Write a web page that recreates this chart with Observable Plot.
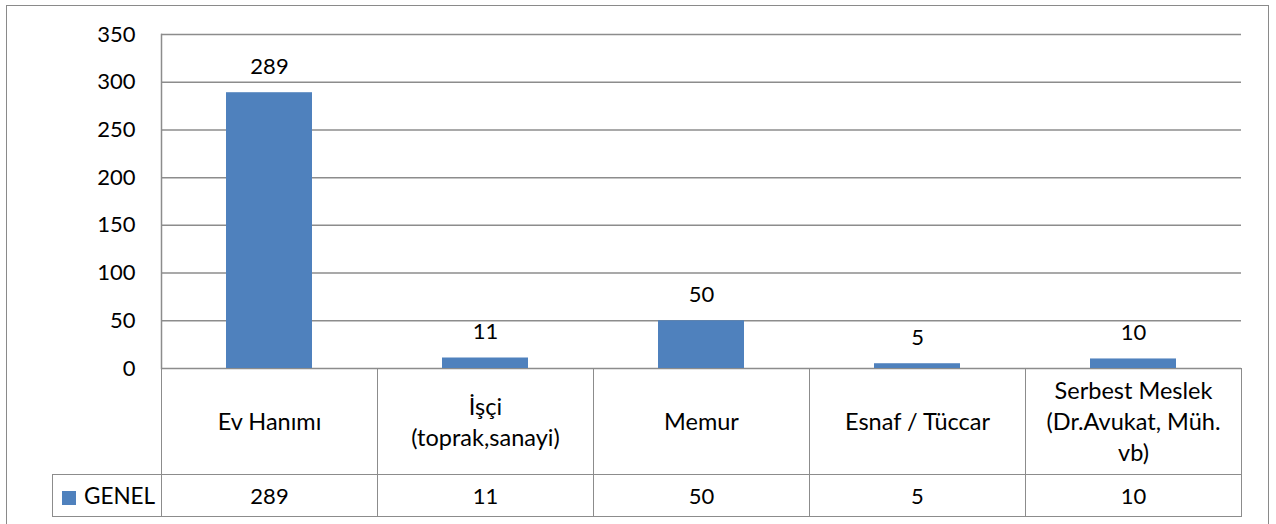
<!DOCTYPE html>
<html><head><meta charset="utf-8">
<script src="https://cdn.jsdelivr.net/npm/d3@7"></script>
<script src="https://cdn.jsdelivr.net/npm/@observablehq/plot@0.6"></script>
<style>
body{margin:0;background:#fff;font-family:Lato,sans-serif;}
#wrap{position:relative;width:1276px;height:524px;overflow:hidden;background:#fff}
#frame{position:absolute;left:6px;top:5px;width:1263px;height:600px;border:1.5px solid #8a8a8a;box-sizing:border-box}
#chart{position:absolute;left:0;top:0}
#tbl{position:absolute;left:52px;top:368px;border-collapse:collapse;table-layout:fixed;font:22px Lato,sans-serif;color:#000}
#tbl td{border:1.5px solid #8c8c8c;text-align:center;padding:0;line-height:31px;box-sizing:border-box}
#tbl td.empty{border-left:none;border-top:none}
#tbl tr.cats td{height:106px;font-size:23.5px}
#tbl tr.vals td{height:42px}
#tbl td.legend{text-align:left;padding-left:9px;font-size:22.5px}
#tbl .sw{display:inline-block;width:14px;height:14px;background:#4F81BD;margin-right:8px;vertical-align:-1px}
</style></head>
<body><div id="wrap"><div id="frame"></div><div id="chart"></div><table id="tbl"></table></div>
<script>
const categories = ["Ev Hanımı","İşçi (toprak,sanayi)","Memur","Esnaf / Tüccar","Serbest Meslek (Dr.Avukat, Müh. vb)"];
const categoryLines = [["Ev Hanımı"],["İşçi","(toprak,sanayi)"],["Memur"],["Esnaf / Tüccar"],["Serbest Meslek","(Dr.Avukat, Müh.","vb)"]];
const values = [289,11,50,5,10];
const seriesName = "GENEL";
const yTicks = [0,50,100,150,200,250,300,350];
const barColor = "#4F81BD";

const data = categories.map((c,i)=>({category:c, value:values[i]}));
const chart = Plot.plot({
  width:1276, height:370, marginLeft:161, marginRight:35, marginTop:34, marginBottom:2,
  style:{fontFamily:"Lato, sans-serif", fontSize:"22px", color:"#000", background:"transparent", overflow:"visible"},
  x:{type:"band", domain:categories, paddingInner:0.6, paddingOuter:0.3, axis:null},
  y:{domain:[0,350], ticks:yTicks, label:null, axis:null},
  marks:[
    Plot.ruleY(yTicks,{stroke:"#8c8c8c", strokeWidth:1.5}),
    Plot.frame({anchor:"left", stroke:"#8c8c8c", strokeWidth:1.5}),
    Plot.axisY({ticks:yTicks, tickSize:0, tickPadding:26, label:null, fontSize:22, fill:"#000"}),
    Plot.barY(data,{x:"category", y:"value", fill:barColor}),
    Plot.text(data,{x:"category", y:"value", text:d=>String(d.value), dy:-26, fontSize:22, fill:"#000"})
  ]
});
document.getElementById("chart").appendChild(chart);

// data table below the chart
const tbl = document.getElementById("tbl");
const cg = document.createElement("colgroup");
const c0 = document.createElement("col"); c0.style.width = "109px"; cg.appendChild(c0);
categories.forEach(()=>{const c=document.createElement("col"); c.style.width="216px"; cg.appendChild(c);});
tbl.appendChild(cg);
const tr1 = document.createElement("tr"); tr1.className="cats";
const e = document.createElement("td"); e.className="empty"; tr1.appendChild(e);
categoryLines.forEach(lines=>{
  const td=document.createElement("td");
  lines.forEach((l,i)=>{ if(i) td.appendChild(document.createElement("br")); td.appendChild(document.createTextNode(l)); });
  tr1.appendChild(td);
});
tbl.appendChild(tr1);
const tr2 = document.createElement("tr"); tr2.className="vals";
const lg = document.createElement("td"); lg.className="legend";
const sw = document.createElement("span"); sw.className="sw"; sw.style.background=barColor; lg.appendChild(sw);
lg.appendChild(document.createTextNode(seriesName));
tr2.appendChild(lg);
values.forEach(v=>{const td=document.createElement("td"); td.textContent=String(v); tr2.appendChild(td);});
tbl.appendChild(tr2);
</script>
</body></html>
